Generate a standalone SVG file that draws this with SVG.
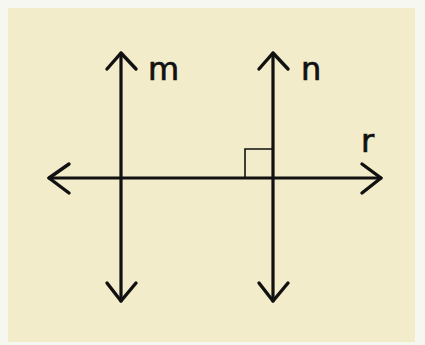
<svg xmlns="http://www.w3.org/2000/svg" width="425" height="345" viewBox="0 0 425 345">
<style>
.ln{stroke:#111;stroke-width:3.2;fill:none;stroke-linecap:round}
.ah{stroke:#111;stroke-width:3.4;fill:none;stroke-linecap:round;stroke-linejoin:round}
.sq{stroke:#111;stroke-width:1.6;fill:none}
.lbl{font-family:"DejaVu Sans",sans-serif;font-size:32px;fill:#111;stroke:#111;stroke-width:0.7}
</style>
<rect x="0" y="0" width="425" height="345" fill="#f7f7f2"/>
<rect x="8" y="8" width="407" height="334" fill="#f3ecca"/>
<g id="connectors">
<g id="line-m">
<line class="ln" x1="121" y1="53" x2="121" y2="301"/>
<polyline class="ah" points="107,69 121,53 136,69"/>
<polyline class="ah" points="107,283 121,301 136,283"/>
</g>
<g id="line-n">
<line class="ln" x1="273" y1="53" x2="273" y2="301"/>
<polyline class="ah" points="259,69 273,53 288,69"/>
<polyline class="ah" points="259,283 273,301 288,283"/>
</g>
<g id="line-r">
<line class="ln" x1="49" y1="178" x2="381" y2="178"/>
<polyline class="ah" points="69,164 49,178 69,193"/>
<polyline class="ah" points="362,164 381,178 362,193"/>
</g>
<polyline id="right-angle" class="sq" points="245,178 245,149 273,149"/>
</g>
<g id="label-m"><text class="lbl" x="148" y="80">m</text></g>
<g id="label-n"><text class="lbl" x="301" y="80">n</text></g>
<g id="label-r"><text class="lbl" x="361" y="152">r</text></g>
</svg>
